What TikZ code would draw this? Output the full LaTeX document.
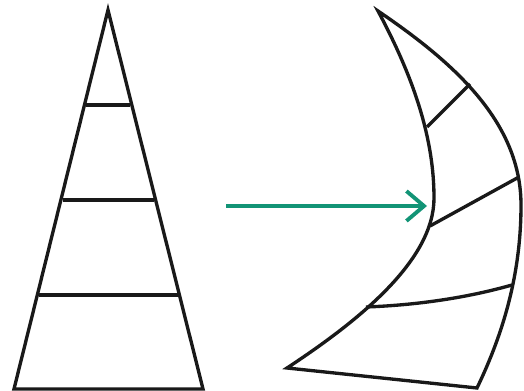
\documentclass[tikz,border=0pt]{standalone}
\usepackage{xcolor}
\usepackage{tikz}
\usetikzlibrary{arrows.meta}
\definecolor{sailgreen}{RGB}{18,148,118}
\tikzset{
    sailline/.style={draw, line width=1.9pt, line join=miter, black!90},
    sailarrow/.style={draw=sailgreen, line width=2.2pt, -{Straight Barb[length=10pt, width=17pt, line width=2.2pt]}}
}

\begin{document}
\begin{tikzpicture}[x=0.02cm, y=-0.02cm]
    \useasboundingbox (0,0) rectangle (524,391);

    % flat triangle
    \coordinate (apex) at (108,10);
    \coordinate (baseleft) at (14,389);
    \coordinate (baseright) at (203,389);
    \draw[sailline] (baseleft) -- (apex) -- (baseright) -- cycle;
    \draw[sailline] (86,105) -- (130,105);
    \draw[sailline] (63,200) -- (154,200);
    \draw[sailline] (39,295) -- (178,295);

    % arrow
    \coordinate (from) at (226,206);
    \coordinate (to) at (427,206);
    \draw[sailarrow] (from) -- (to);

    % curved sail
    \coordinate (head) at (378,11);
    \coordinate (leech) at (521,205);
    \coordinate (luff) at (434,198);
    \coordinate (clew) at (477,388);
    \coordinate (tack) at (287,368);
    \draw[sailline] (head) .. controls (450,60) and (521,120) .. (leech)
        .. controls (521,280) and (500,340) .. (clew)
        -- (tack)
        .. controls (360,320) and (434,260) .. (luff)
        .. controls (434,140) and (415,80) .. (head) -- cycle;
    \draw[sailline] (427,127) -- (470,84);
    \draw[sailline] (430,226) -- (519,177);
    \draw[sailline] (366,307) .. controls (420,305) and (470,297) .. (512,285);
\end{tikzpicture}
\end{document}
